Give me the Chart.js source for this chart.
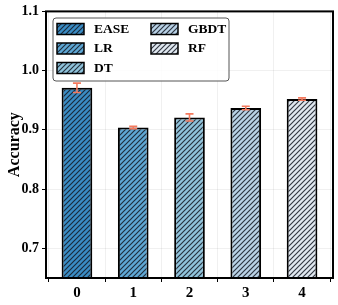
<!DOCTYPE html>
<html>
<head>
<meta charset="utf-8">
<script src="https://cdn.jsdelivr.net/npm/chart.js@4.4.1/dist/chart.umd.min.js"></script>
<style>
  html, body { margin: 0; padding: 0; background: #fff; }
  #wrap { width: 338px; height: 305px; }
</style>
</head>
<body>
<div id="wrap"><canvas id="myChart" width="338" height="305"></canvas></div>
<script>
// data
var categories = ['0', '1', '2', '3', '4'];
var models = ['EASE', 'LR', 'DT', 'GBDT', 'RF'];
var accuracy = [0.971, 0.904, 0.921, 0.937, 0.952];
var errors = [0.008, 0.002, 0.006, 0.003, 0.002];
var yTicks = [0.7, 0.8, 0.9, 1.0, 1.1];
var colors = ['#3a8cc4', '#5ea7d4', '#8fc3db', '#b9d2e6', '#e0e8f0'];

var serif = "'Liberation Serif', 'Times New Roman', serif";

function hatch(color) {
    var s = 5;
    var c = document.createElement('canvas');
    c.width = s; c.height = s;
    var g = c.getContext('2d');
    g.fillStyle = color;
    g.fillRect(0, 0, s, s);
    g.strokeStyle = 'rgba(20,25,35,0.85)';
    g.lineWidth = 1.15;
    g.beginPath();
    g.moveTo(-1, s + 1); g.lineTo(s + 1, -1);
    g.moveTo(-1, 1); g.lineTo(1, -1);
    g.moveTo(s - 1, s + 1); g.lineTo(s + 1, s - 1);
    g.stroke();
    return document.getElementById('myChart').getContext('2d').createPattern(c, 'repeat');
}

var patterns = colors.map(hatch);

// error bars + frame + legend
var extras = {
    id: 'extras',
    afterDatasetsDraw: function (chart) {
        var ctx = chart.ctx;
        var x = chart.scales.x, y = chart.scales.y;
        ctx.save();
        ctx.strokeStyle = '#f47a5e';
        ctx.lineWidth = 1.6;
        accuracy.forEach(function (v, i) {
            var cx = x.getPixelForValue(i);
            var t = y.getPixelForValue(v + errors[i]);
            var b = y.getPixelForValue(v - errors[i]);
            ctx.beginPath();
            ctx.moveTo(cx, t); ctx.lineTo(cx, b);
            ctx.moveTo(cx - 4, t); ctx.lineTo(cx + 4, t);
            ctx.moveTo(cx - 4, b); ctx.lineTo(cx + 4, b);
            ctx.stroke();
        });
        var a = chart.chartArea;
        ctx.strokeStyle = '#000';
        ctx.lineWidth = 2;
        ctx.strokeRect(a.left, a.top, a.right - a.left, a.bottom - a.top);

        // legend box
        var lx = 53, ly = 18, lw = 176, lh = 63;
        ctx.beginPath();
        ctx.roundRect(lx, ly, lw, lh, 3);
        ctx.fillStyle = 'rgba(255,255,255,0.85)';
        ctx.fill();
        ctx.strokeStyle = '#555';
        ctx.lineWidth = 1;
        ctx.stroke();
        var pos = [[57, 29], [57, 48.5], [57, 68], [151, 29], [151, 48.5]];
        ctx.font = 'bold 13.5px ' + serif;
        ctx.textBaseline = 'middle';
        models.forEach(function (m, i) {
            var px = pos[i][0], py = pos[i][1];
            ctx.fillStyle = patterns[i];
            ctx.fillRect(px, py - 5.5, 27, 11);
            ctx.strokeStyle = '#000';
            ctx.lineWidth = 1.5;
            ctx.strokeRect(px, py - 5.5, 27, 11);
            ctx.fillStyle = '#000';
            ctx.fillText(m, px + 37, py + 0.5);
        });
        ctx.restore();
    }
};

var ctx = document.getElementById('myChart').getContext('2d');
var myChart = new Chart(ctx, {
    type: 'bar',
    data: {
        datasets: [{
            label: 'Accuracy',
            data: accuracy.map(function (v, i) { return { x: i, y: v }; }),
            backgroundColor: patterns,
            borderColor: '#000',
            borderWidth: 2,
            borderSkipped: false,
            categoryPercentage: 1,
            barPercentage: 0.545
        }]
    },
    options: {
        responsive: false,
        animation: false,
        devicePixelRatio: 1,
        layout: { padding: { top: 11, right: 5, left: 5, bottom: 0 } },
        plugins: {
            legend: { display: false },
            tooltip: { enabled: false }
        },
        scales: {
            x: {
                type: 'linear',
                min: -0.55,
                max: 4.55,
                offset: false,
                afterBuildTicks: function (s) {
                    s.ticks = categories.map(function (c, i) { return { value: i }; });
                },
                grid: { color: 'rgba(0,0,0,0.06)', tickColor: '#000', tickLength: 4 },
                border: { display: false },
                ticks: {
                    color: '#000',
                    font: { family: serif, weight: 'bold', size: 15 },
                    padding: 2,
                    callback: function (v) { return categories[Math.round(v)]; }
                },
                afterFit: function (s) { s.height = 27; }
            },
            y: {
                min: 0.65,
                max: 1.1,
                afterBuildTicks: function (s) {
                    s.ticks = yTicks.map(function (v) { return { value: v }; });
                },
                grid: { color: 'rgba(0,0,0,0.06)', tickColor: '#000', tickLength: 4 },
                border: { display: false },
                ticks: {
                    color: '#000',
                    font: { family: serif, weight: 'bold', size: 14 },
                    padding: 3,
                    callback: function (v) { return Number(v).toFixed(1); }
                },
                title: {
                    display: true,
                    text: 'Accuracy',
                    color: '#000',
                    font: { family: serif, weight: 'bold', size: 16 },
                    padding: 0
                },
                afterFit: function (s) { s.width = 41; }
            }
        }
    },
    plugins: [extras]
});
</script>
</body>
</html>
